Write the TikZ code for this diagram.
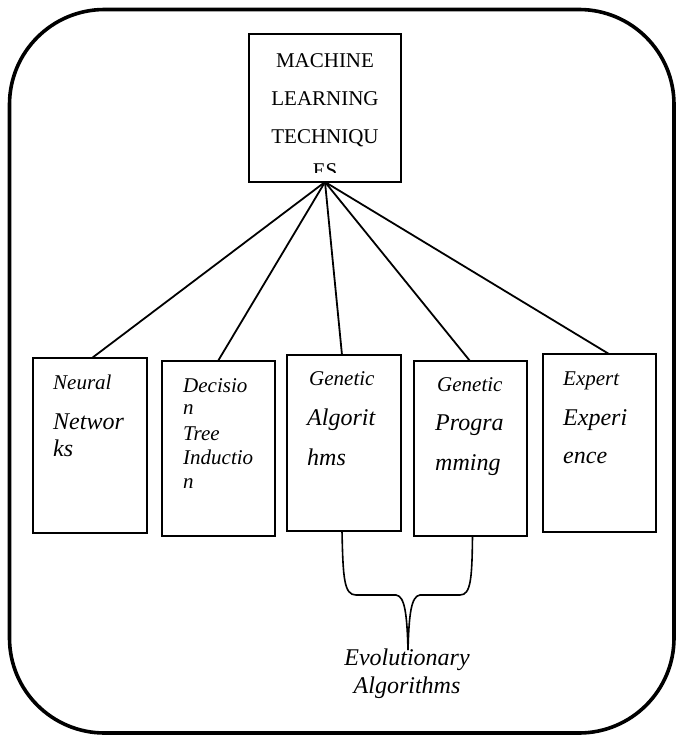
\documentclass[tikz,border=0pt]{standalone}
\usepackage{fontspec}
\setmainfont{Liberation Serif}[ItalicFont={Liberation Serif Italic}]
\usetikzlibrary{calc}
\begin{document}
\begin{tikzpicture}[x=1pt,y=-1pt,
  box/.style={draw, line width=2.1pt, inner sep=0pt, outer sep=0pt},
  conn/.style={line width=1.8pt},
  bracel/.style={line width=1.6pt},
  lbl/.style={anchor=base west, inner sep=0pt, font=\itshape\fontsize{21}{21}\selectfont},
  lblbig/.style={anchor=base west, inner sep=0pt, font=\itshape\fontsize{24}{24}\selectfont},
  evo/.style={anchor=base, inner sep=0pt, font=\itshape\fontsize{24}{24}\selectfont},
  toplbl/.style={anchor=base, inner sep=0pt, font=\fontsize{21}{21}\selectfont},
]
\useasboundingbox (0,0) rectangle (676,736);
\draw[line width=3.6pt, rounded corners=95pt] (9.5,9.5) rectangle (674,733);

% top box
\node[box, minimum width=152pt, minimum height=148pt] (top) at (325,108) {};
\begin{scope}
\clip (251,36) rectangle (399,172);
\node[toplbl] (t1) at (325,67) {MACHINE};
\node[toplbl] (t2) at (325,105) {LEARNING};
\node[toplbl] (t3) at (325,143) {TECHNIQU};
\node[toplbl] (t4) at (325,177) {ES};
\end{scope}

% lower boxes
\node[box, minimum width=114pt, minimum height=175pt] (nn) at (90,445.5) {};
\node[box, minimum width=113pt, minimum height=175pt] (dt) at (218.5,448.5) {};
\node[box, minimum width=114pt, minimum height=176pt] (ga) at (344,443) {};
\node[box, minimum width=113pt, minimum height=175pt] (gp) at (470.5,448.5) {};
\node[box, minimum width=113pt, minimum height=178pt] (ee) at (599.5,443) {};

% connectors
\draw[conn] (top.south) -- ($(nn.north)+(2,0)$);
\draw[conn] (top.south) -- ($(dt.north)+(-0.5,0)$);
\draw[conn] (top.south) -- ($(ga.north)+(-2,0)$);
\draw[conn] (top.south) -- ($(gp.north)+(-0.5,0)$);
\draw[conn] (top.south) -- ($(ee.north)+(9.5,0)$);

% labels
\node[lbl] (nn1) at (53,389) {Neural};
\node[lblbig] (nn2) at (53,429) {Networ};
\node[lblbig] (nn3) at (53,456) {ks};

\node[lbl] (dt1) at (183,392) {Decisio};
\node[lbl] (dt2) at (183,414) {n};
\node[lbl] (dt3) at (183,440) {Tree};
\node[lbl] (dt4) at (183,464) {Inductio};
\node[lbl] (dt5) at (183,488) {n};

\node[lbl] (ga1) at (309,385) {Genetic};
\node[lblbig] (ga2) at (307,425) {Algorit};
\node[lblbig] (ga3) at (307,465) {hms};

\node[lbl] (gp1) at (437,391) {Genetic};
\node[lblbig] (gp2) at (435,430) {Progra};
\node[lblbig] (gp3) at (435,470) {mming};

\node[lbl] (ee1) at (563,385) {Expert};
\node[lblbig] (ee2) at (563,425) {Experi};
\node[lblbig] (ee3) at (563,463) {ence};

% brace
\coordinate (tip) at (408,650);
\draw[bracel] ($(ga.south)+(-2,0)$) .. controls (343,578) and (344,595) .. (356,595)
  -- (396,595) .. controls (405,596) and (407,615) .. (tip);
\draw[bracel] ($(gp.south)+(2,0)$) .. controls (472,578) and (471,595) .. (460,595)
  -- (420,595) .. controls (411,596) and (409,615) .. (tip);

\node[evo] (ev1) at (407,665) {Evolutionary};
\node[evo] (ev2) at (407,693) {Algorithms};
\end{tikzpicture}
\end{document}
